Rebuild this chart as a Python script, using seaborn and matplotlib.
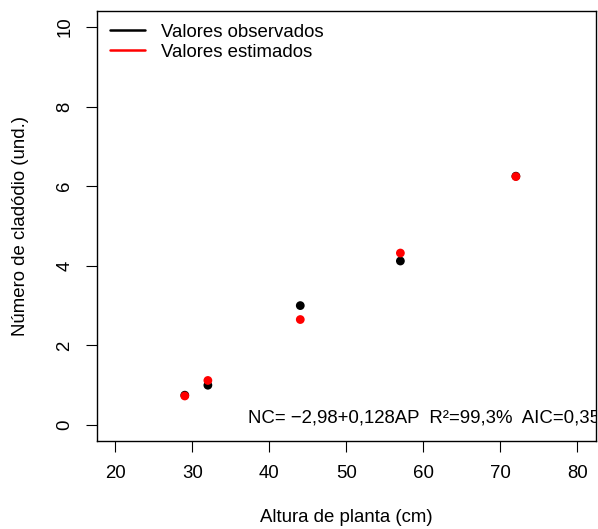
import matplotlib
matplotlib.use('Agg')
import matplotlib.pyplot as plt
import seaborn as sns
import pandas as pd
from matplotlib.lines import Line2D

# dados
altura = [29, 32, 44, 57, 72]
observados = [0.75, 1.00, 3.00, 4.12, 6.25]
estimados = [0.73, 1.12, 2.65, 4.32, 6.24]
x_ticks = [20, 30, 40, 50, 60, 70, 80]
y_ticks = [0, 2, 4, 6, 8, 10]
equacao = "NC= \u22122,98+0,128AP  R\u00b2=99,3%  AIC=0,35"

df = pd.DataFrame({
    'AP': altura + altura,
    'NC': observados + estimados,
    'tipo': ['Valores observados'] * len(altura) + ['Valores estimados'] * len(altura),
})

sns.set_style("white")
plt.rcParams['font.family'] = ['Liberation Sans', 'DejaVu Sans']
plt.rcParams['font.size'] = 13.4
plt.rcParams['text.color'] = 'black'
plt.rcParams['axes.labelcolor'] = 'black'
plt.rcParams['xtick.color'] = 'black'
plt.rcParams['ytick.color'] = 'black'

fs = 13.4
fig = plt.figure(figsize=(5.98, 5.29), dpi=100)
ax = fig.add_axes([0.1622, 0.1664, 0.8344, 0.8129])

sns.scatterplot(data=df, x='AP', y='NC', hue='tipo',
                palette={'Valores observados': 'black', 'Valores estimados': 'red'},
                s=40, edgecolor='none', legend=False, ax=ax)

ax.set_xlim(17.6, 82.4)
ax.set_ylim(-0.4, 10.4)
ax.set_xticks(x_ticks)
ax.set_yticks(y_ticks)
ax.set_xticklabels([str(t) for t in x_ticks], fontsize=fs)
ax.set_yticklabels([str(t) for t in y_ticks], fontsize=fs, rotation=90, va='center')
ax.tick_params(axis='both', direction='out', length=8, width=0.8, color='black',
               bottom=True, left=True, labelcolor='black')
ax.tick_params(axis='x', pad=9)
ax.tick_params(axis='y', pad=9)
for s in ax.spines.values():
    s.set_color('black')
    s.set_linewidth(1.0)

ax.set_xlabel('Altura de planta (cm)', fontsize=fs, labelpad=20, color='black')
ax.set_ylabel('Número de cladódio (und.)', fontsize=fs, labelpad=20, color='black')

handles = [Line2D([0], [0], color='black', lw=1.8),
           Line2D([0], [0], color='red', lw=1.8)]
leg = ax.legend(handles, ['Valores observados', 'Valores estimados'], loc='upper left',
                frameon=False, fontsize=fs, handlelength=1.9, handletextpad=0.85,
                labelspacing=0.15, borderaxespad=0.4, borderpad=0.3)
for t in leg.get_texts():
    t.set_color('black')

ax.text(37.2, 0.17, equacao, fontsize=fs, ha='left', va='center', clip_on=True, color='black')

plt.savefig('out.png', dpi=100)
plt.close()
